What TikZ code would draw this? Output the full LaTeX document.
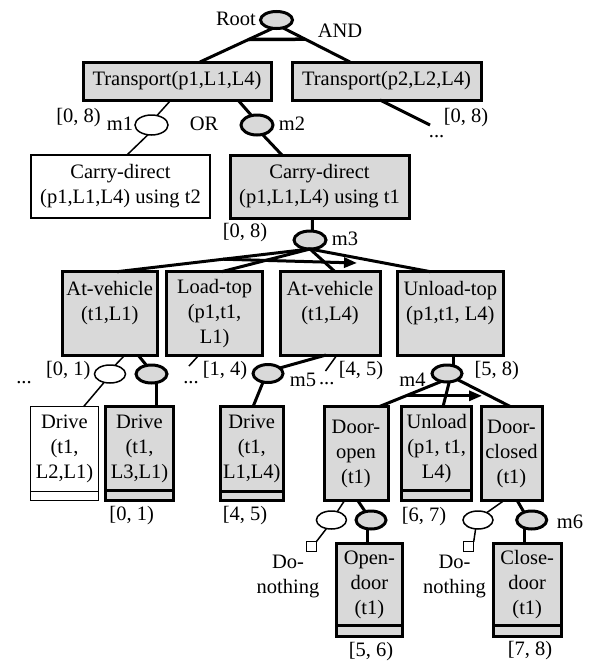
\documentclass[tikz,border=0pt]{standalone}
\usepackage{fontspec}
\setmainfont{Liberation Serif}
\usetikzlibrary{shapes.geometric,calc,arrows.meta}
\definecolor{boxgrey}{RGB}{217,217,217}
\begin{document}
\begin{tikzpicture}[x=1pt,y=-1pt,
  every node/.style={font=\fontsize{20.5}{25}\selectfont, inner sep=0pt, outer sep=0pt},
  gbox/.style={rectangle, draw, fill=boxgrey, line width=3pt, align=center, anchor=north west},
  wbox/.style={rectangle, draw, fill=white, line width=1.5pt, align=center, anchor=north west},
  gstrip/.style={draw, fill=boxgrey, line width=3pt},
  wstrip/.style={draw, fill=white, line width=1.5pt},
  gell/.style={ellipse, draw, fill=boxgrey, line width=3pt, minimum width=31pt, minimum height=18pt},
  well/.style={ellipse, draw, fill=white, line width=1.5pt, minimum width=31pt, minimum height=18pt},
  thk/.style={line width=3pt},
  thn/.style={line width=1.5pt},
  ordarrow/.style={line width=3pt, -{Triangle[length=13pt,width=10pt]}},
  sqr/.style={rectangle, draw, fill=white, line width=1.2pt, minimum width=10pt, minimum height=10pt},
]
\fill[white] (0,0) rectangle (594,667);
\useasboundingbox (0,0) rectangle (594,667);

% ---------- boxes ----------
\node[gbox, minimum width=188pt, minimum height=38pt] (T1) at (83,62) {Transport(p1,L1,L4)};
\node[gbox, minimum width=189pt, minimum height=38pt] (T2) at (292,62) {Transport(p2,L2,L4)};
\node[wbox, minimum width=179pt, minimum height=63pt] (C2) at (31,155) {Carry-direct\\(p1,L1,L4) using t2};
\node[gbox, minimum width=179pt, minimum height=63pt] (C1) at (230,155) {Carry-direct\\(p1,L1,L4) using t1};

\node[gbox, minimum width=94.5pt, minimum height=83.3pt] (AL1) at (62.5,271.7) {At-vehicle\\(t1,L1)\\~};
\node[gbox, minimum width=95.8pt, minimum height=83.3pt] (LT) at (166.7,271.7) {Load-top\\(p1,t1,\\L1)};
\node[gbox, minimum width=100pt, minimum height=83.3pt] (AL4) at (280,271.7) {At-vehicle\\(t1,L4)\\~};
\node[gbox, minimum width=105.3pt, minimum height=83.3pt] (UT) at (397.7,271.7) {Unload-top\\(p1,t1, L4)\\~};

\node[wbox, minimum width=68pt, minimum height=85pt] (D1) at (30.5,406.7) {Drive\\(t1,\\L2,L1)};
\draw[wstrip] (D1.south west) rectangle ($(D1.south east)+(0,9)$);
\node[gbox, minimum width=68pt, minimum height=84pt] (D2) at (105.5,406.7) {Drive\\(t1,\\L3,L1)};
\draw[gstrip] (D2.south west) rectangle ($(D2.south east)+(0,9.5)$);
\node[gbox, minimum width=63.5pt, minimum height=85pt] (D3) at (220,406.7) {Drive\\(t1,\\L1,L4)};
\draw[gstrip] (D3.south west) rectangle ($(D3.south east)+(0,9)$);
\node[gbox, minimum width=64pt, minimum height=94pt] (DO) at (324,406.7) {Door-\\open\\(t1)};
\node[gbox, minimum width=70pt, minimum height=83.5pt] (UL) at (401.7,406.7) {Unload\\(p1, t1,\\L4)};
\draw[gstrip] (UL.south west) rectangle ($(UL.south east)+(0,10)$);
\node[gbox, minimum width=61pt, minimum height=94pt] (DC) at (481,406.7) {Door-\\closed\\(t1)};

\node[gbox, minimum width=66pt, minimum height=82.4pt] (OD) at (336.4,543.3) {Open-\\door\\(t1)};
\draw[gstrip] (OD.south west) rectangle ($(OD.south east)+(0,11)$);
\node[gbox, minimum width=68.5pt, minimum height=82.4pt] (CD) at (493,543.3) {Close-\\door\\(t1)};
\draw[gstrip] (CD.south west) rectangle ($(CD.south east)+(0,11)$);

% ---------- ellipses ----------
\node[gell, minimum width=32pt, minimum height=17pt] (root) at (276.5,20) {};
\node[well, minimum width=33pt, minimum height=20pt] (m1) at (151.5,125) {};
\node[gell, minimum width=32pt, minimum height=20pt] (m2) at (257,125) {};
\node[gell, minimum width=32pt] (m3) at (310,240) {};
\node[well] (E1) at (110,374) {};
\node[gell] (E2) at (151.5,374) {};
\node[gell, minimum width=30pt] (m5) at (268,373.5) {};
\node[gell, minimum width=30pt, minimum height=17pt] (m4) at (447,373.5) {};
\node[well, minimum width=30pt] (E3) at (331.4,520) {};
\node[gell, minimum width=30pt] (E4) at (371,520) {};
\node[well, minimum width=30pt] (E5) at (478,520) {};
\node[gell, minimum width=30pt] (E6) at (531.7,520) {};
\node[sqr] (S1) at (311.3,546.7) {};
\node[sqr] (S2) at (468.7,546.7) {};

% ---------- connectors ----------
\coordinate (T1a) at ($(T1.north west)!0.622!(T1.north east)$);
\coordinate (T2a) at ($(T2.north west)!0.307!(T2.north east)$);
\draw[thk] (root.246) -- (T1a);
\draw[thk] (root.309) -- (T2a);
\draw[line width=3.5pt] ($(root.246)!0.333!(T1a)$) -- ($(root.309)!0.333!(T2a)$);

\draw[thn] ($(T1.south west)!0.468!(T1.south east)$) -- (m1.60);
\draw[thk] ($(T1.south west)!0.824!(T1.south east)$) -- (m2.120);
\draw[thn] (m1.250) -- ($(C2.north west)!0.536!(C2.north east)$);
\draw[thk] (m2.300) -- ($(C1.north west)!0.29!(C1.north east)$);
\coordinate (T2end) at (430,125);
\draw[thk] ($(T2.south west)!0.466!(T2.south east)$) -- (T2end);
\draw[thk] ($(C1.south west)!0.46!(C1.south east)$) -- (m3.75);

\coordinate (AL1a) at ($(AL1.north west)!0.577!(AL1.north east)$);
\draw[thk] (m3.south) -- (AL1a);
\draw[thk] (m3.south) -- ($(LT.north west)!0.573!(LT.north east)$);
\draw[thk] (m3.south) -- ($(AL4.north west)!0.55!(AL4.north east)$);
\draw[thk] (m3.south) -- ($(UT.north west)!0.31!(UT.north east)$);
\coordinate (m3arr) at (357,263);
\draw[ordarrow] ($(m3.south)!0.45!(AL1a)$) -- (m3arr);

\draw[thn] ($(AL1.south west)!0.661!(AL1.south east)$) -- (E1.60);
\draw[thk] ($(AL1.south west)!0.799!(AL1.south east)$) -- (E2.120);
\coordinate (LTend) at (189,366);
\draw[thn] ($(LT.south west)!0.337!(LT.south east)$) -- (LTend);
\draw[thk] ($(AL4.south west)!0.46!(AL4.south east)$) -- (m5.25);
\coordinate (AL4end) at (325.5,371);
\draw[thn] ($(AL4.south west)!0.57!(AL4.south east)$) -- (AL4end);
\draw[thk] (UT.south -| m4.52) -- (m4.52);

\draw[thn] (E1.235) -- ($(D1.north west)!0.78!(D1.north east)$);
\draw[thk] (E2.300) -- (E2.300 |- D2.north);
\draw[thk] (m5.240) -- ($(D3.north west)!0.52!(D3.north east)$);
\coordinate (DOa) at ($(DO.north west)!0.86!(DO.north east)$);
\draw[thk] (m4.235) -- (DOa);
\draw[thk] (m4.285) -- ($(UL.north west)!0.59!(UL.north east)$);
\draw[thk] (m4.330) -- ($(DC.north west)!0.486!(DC.north east)$);
\coordinate (m4arr) at (482,396.5);
\coordinate (m4arrS) at ($(m4.235)!0.57!(DOa)$);
\draw[ordarrow] (m4arrS) -- (m4arrS -| m4arr);

\draw[thn] ($(DO.south west)!0.32!(DO.south east)$) -- (E3.55);
\draw[thk] ($(DO.south west)!0.53!(DO.south east)$) -- (E4.125);
\draw[thn] (E3.240) -- (S1.north east);
\draw[thk] (E4.250) -- (E4.250 |- OD.north);
\draw[thn] ($(DC.south west)!0.373!(DC.south east)$) -- (E5.40);
\draw[thk] ($(DC.south west)!0.595!(DC.south east)$) -- (E6.135);
\draw[thn] (E5.255) -- (S2.north east);
\draw[thk] (E6.229) -- (E6.229 |- CD.north);

% ---------- labels ----------
\node (lroot) at (236,18.5) {Root};
\node (land) at (340,31) {AND};
\node (l08a) at (78.6,118) {[0, 8)};
\node (lm1) at (120,124) {m1};
\node (lor) at (204,124) {OR};
\node (lm2) at (292,124) {m2};
\node (l08b) at (466,118) {[0, 8)};
\node (dots1) at (436.6,137) {...};
\node (l08c) at (245,233) {[0, 8)};
\node (lm3) at (345,239) {m3};
\node (dots2) at (24,383) {...};
\node (l01a) at (68.3,371) {[0, 1)};
\node (dots3) at (191,383) {...};
\node (l14) at (225,371) {[1, 4)};
\node[anchor=base] (lm5) at (303,386) {m5};
\node (dots4) at (326.7,384) {...};
\node (l45a) at (361,371) {[4, 5)};
\node (lm4) at (412.5,380) {m4};
\node (l58) at (496.7,371) {[5, 8)};
\node (l01b) at (131.7,516) {[0, 1)};
\node (l45b) at (245,516) {[4, 5)};
\node (l67) at (424,516.5) {[6, 7)};
\node (lm6) at (570,522) {m6};
\node[align=center] (dn1) at (288,576.5) {Do-\\nothing};
\node[align=center] (dn2) at (454.5,576.5) {Do-\\nothing};
\node (l56) at (371,652) {[5, 6)};
\node (l78) at (530,651) {[7, 8)};
\end{tikzpicture}
\end{document}
